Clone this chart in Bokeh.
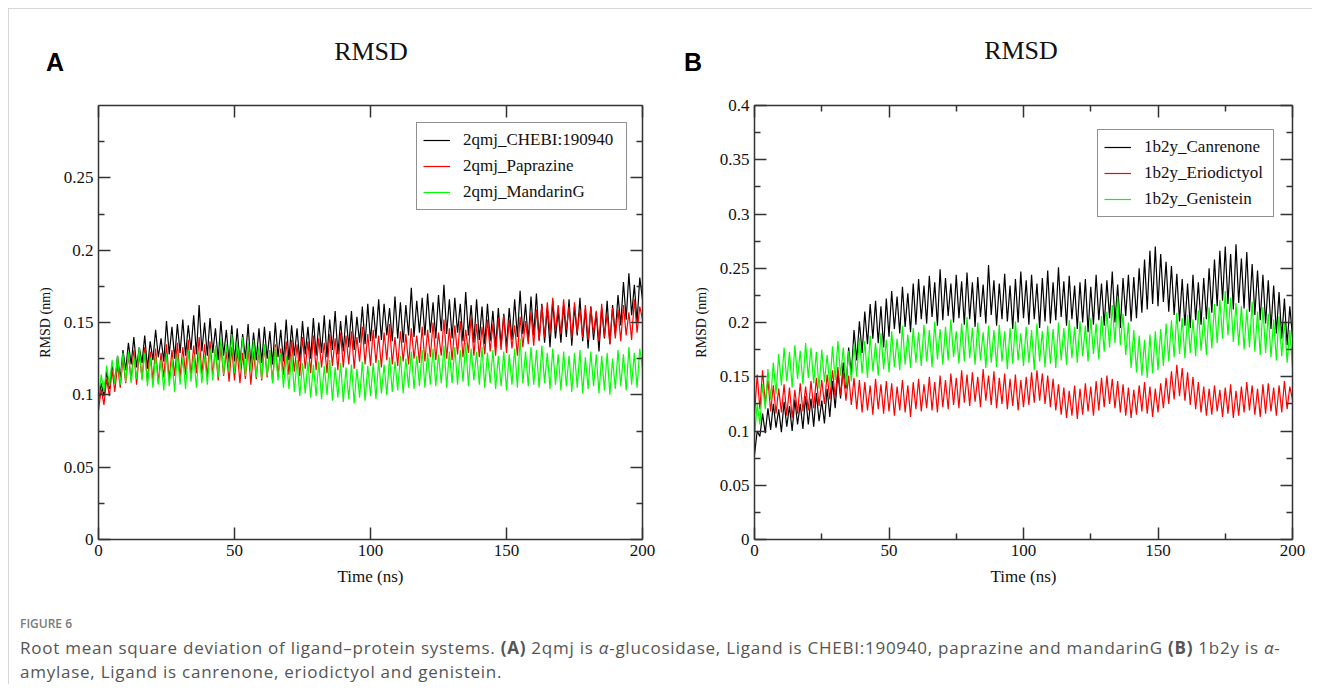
from bokeh.plotting import figure
from bokeh.models import (Range1d, LinearAxis, FixedTicker, CustomJSTickFormatter,
                          Legend, LegendItem, Div)
from bokeh.layouts import row, column
from bokeh.embed import file_html
from bokeh.resources import INLINE

# ---------------- data (RMSD in nm, sampled every 1 ns) ----------------
time_ns = list(range(201))

a_chebi = [
    0.096, 0.108, 0.099, 0.116, 0.104, 0.121, 0.108, 0.127, 0.111, 0.131,
    0.117, 0.136, 0.121, 0.140, 0.119, 0.133, 0.122, 0.141, 0.118, 0.137,
    0.124, 0.145, 0.126, 0.139, 0.123, 0.151, 0.128, 0.147, 0.125, 0.149,
    0.129, 0.152, 0.127, 0.148, 0.131, 0.155, 0.128, 0.162, 0.130, 0.150,
    0.127, 0.153, 0.129, 0.146, 0.124, 0.151, 0.127, 0.145, 0.122, 0.148,
    0.123, 0.146, 0.121, 0.142, 0.125, 0.149, 0.120, 0.143, 0.124, 0.146,
    0.122, 0.147, 0.125, 0.144, 0.121, 0.150, 0.126, 0.145, 0.123, 0.152,
    0.124, 0.148, 0.127, 0.146, 0.123, 0.151, 0.128, 0.147, 0.125, 0.153,
    0.127, 0.150, 0.129, 0.155, 0.126, 0.152, 0.131, 0.158, 0.128, 0.151,
    0.130, 0.155, 0.133, 0.158, 0.131, 0.154, 0.136, 0.161, 0.135, 0.163,
    0.137, 0.161, 0.139, 0.166, 0.138, 0.163, 0.141, 0.160, 0.137, 0.168,
    0.139, 0.164, 0.136, 0.162, 0.141, 0.174, 0.140, 0.165, 0.143, 0.167,
    0.141, 0.170, 0.143, 0.164, 0.139, 0.169, 0.144, 0.176, 0.142, 0.166,
    0.139, 0.167, 0.143, 0.163, 0.137, 0.171, 0.141, 0.162, 0.136, 0.166,
    0.138, 0.161, 0.135, 0.163, 0.137, 0.158, 0.133, 0.160, 0.134, 0.156,
    0.133, 0.160, 0.138, 0.166, 0.140, 0.172, 0.142, 0.163, 0.137, 0.168,
    0.141, 0.170, 0.138, 0.163, 0.136, 0.160, 0.133, 0.165, 0.139, 0.158,
    0.136, 0.162, 0.140, 0.166, 0.134, 0.161, 0.141, 0.167, 0.137, 0.159,
    0.132, 0.161, 0.138, 0.157, 0.130, 0.160, 0.139, 0.165, 0.135, 0.162,
    0.142, 0.169, 0.148, 0.178, 0.152, 0.184, 0.155, 0.176, 0.150, 0.181,
    0.166,
]

a_paprazine = [
    0.089, 0.104, 0.093, 0.111, 0.099, 0.117, 0.102, 0.121, 0.105, 0.125,
    0.108, 0.128, 0.110, 0.131, 0.107, 0.129, 0.111, 0.133, 0.109, 0.130,
    0.110, 0.132, 0.108, 0.129, 0.112, 0.135, 0.110, 0.131, 0.113, 0.136,
    0.112, 0.133, 0.114, 0.138, 0.113, 0.134, 0.115, 0.140, 0.114, 0.135,
    0.112, 0.137, 0.114, 0.132, 0.110, 0.134, 0.113, 0.130, 0.109, 0.133,
    0.110, 0.131, 0.108, 0.129, 0.111, 0.133, 0.107, 0.130, 0.111, 0.132,
    0.110, 0.134, 0.112, 0.131, 0.109, 0.135, 0.113, 0.132, 0.114, 0.137,
    0.114, 0.138, 0.116, 0.135, 0.113, 0.140, 0.118, 0.137, 0.115, 0.141,
    0.117, 0.139, 0.119, 0.136, 0.115, 0.142, 0.120, 0.139, 0.117, 0.143,
    0.119, 0.141, 0.121, 0.144, 0.118, 0.140, 0.123, 0.147, 0.121, 0.142,
    0.120, 0.145, 0.122, 0.141, 0.119, 0.143, 0.124, 0.149, 0.121, 0.140,
    0.120, 0.144, 0.123, 0.142, 0.121, 0.146, 0.125, 0.141, 0.122, 0.147,
    0.123, 0.145, 0.126, 0.150, 0.124, 0.143, 0.127, 0.152, 0.125, 0.146,
    0.124, 0.148, 0.128, 0.151, 0.126, 0.145, 0.129, 0.154, 0.127, 0.149,
    0.126, 0.147, 0.128, 0.152, 0.130, 0.149, 0.127, 0.153, 0.131, 0.155,
    0.129, 0.152, 0.132, 0.148, 0.127, 0.154, 0.133, 0.151, 0.135, 0.157,
    0.134, 0.159, 0.137, 0.162, 0.140, 0.164, 0.143, 0.167, 0.144, 0.162,
    0.142, 0.166, 0.145, 0.161, 0.139, 0.164, 0.143, 0.159, 0.140, 0.162,
    0.138, 0.161, 0.142, 0.158, 0.137, 0.163, 0.140, 0.156, 0.135, 0.160,
    0.139, 0.159, 0.137, 0.162, 0.141, 0.157, 0.138, 0.166, 0.143, 0.161,
    0.152,
]

a_mandarin = [
    0.098, 0.114, 0.102, 0.120, 0.106, 0.124, 0.108, 0.127, 0.107, 0.129,
    0.109, 0.130, 0.108, 0.127, 0.111, 0.133, 0.110, 0.129, 0.106, 0.126,
    0.105, 0.127, 0.107, 0.124, 0.103, 0.128, 0.106, 0.125, 0.102, 0.129,
    0.107, 0.126, 0.104, 0.131, 0.109, 0.128, 0.105, 0.130, 0.108, 0.127,
    0.107, 0.132, 0.110, 0.134, 0.112, 0.139, 0.114, 0.135, 0.116, 0.142,
    0.115, 0.137, 0.117, 0.140, 0.113, 0.136, 0.116, 0.138, 0.112, 0.134,
    0.111, 0.135, 0.113, 0.131, 0.108, 0.133, 0.110, 0.129, 0.105, 0.127,
    0.104, 0.128, 0.102, 0.124, 0.099, 0.122, 0.101, 0.123, 0.098, 0.121,
    0.099, 0.123, 0.097, 0.120, 0.100, 0.124, 0.096, 0.119, 0.098, 0.122,
    0.095, 0.119, 0.097, 0.121, 0.094, 0.118, 0.098, 0.123, 0.096, 0.120,
    0.099, 0.122, 0.097, 0.124, 0.101, 0.121, 0.100, 0.126, 0.102, 0.123,
    0.103, 0.127, 0.101, 0.125, 0.105, 0.130, 0.104, 0.127, 0.106, 0.131,
    0.105, 0.129, 0.107, 0.132, 0.106, 0.128, 0.108, 0.134, 0.105, 0.130,
    0.108, 0.133, 0.107, 0.131, 0.109, 0.136, 0.106, 0.132, 0.110, 0.130,
    0.107, 0.133, 0.105, 0.129, 0.108, 0.131, 0.104, 0.127, 0.106, 0.130,
    0.103, 0.128, 0.107, 0.132, 0.105, 0.139, 0.108, 0.130, 0.106, 0.133,
    0.107, 0.131, 0.105, 0.134, 0.108, 0.129, 0.104, 0.132, 0.107, 0.128,
    0.103, 0.130, 0.106, 0.127, 0.102, 0.129, 0.105, 0.131, 0.101, 0.126,
    0.104, 0.130, 0.106, 0.128, 0.101, 0.127, 0.103, 0.129, 0.100, 0.125,
    0.104, 0.131, 0.106, 0.128, 0.103, 0.133, 0.107, 0.129, 0.105, 0.132,
    0.118,
]

b_canrenone = [
    0.078, 0.100, 0.095, 0.116, 0.098, 0.121, 0.101, 0.125, 0.103, 0.120,
    0.099, 0.127, 0.104, 0.123, 0.100, 0.129, 0.106, 0.125, 0.102, 0.132,
    0.106, 0.130, 0.104, 0.135, 0.109, 0.128, 0.107, 0.139, 0.113, 0.146,
    0.121, 0.154, 0.130, 0.163, 0.139, 0.177, 0.152, 0.193, 0.165, 0.201,
    0.172, 0.210, 0.180, 0.217, 0.185, 0.220, 0.181, 0.215, 0.177, 0.222,
    0.187, 0.229, 0.194, 0.224, 0.190, 0.233, 0.196, 0.227, 0.191, 0.236,
    0.198, 0.240, 0.203, 0.234, 0.199, 0.243, 0.205, 0.237, 0.197, 0.249,
    0.202, 0.241, 0.206, 0.236, 0.200, 0.244, 0.204, 0.238, 0.198, 0.246,
    0.203, 0.237, 0.196, 0.242, 0.205, 0.235, 0.199, 0.253, 0.207, 0.239,
    0.197, 0.236, 0.203, 0.245, 0.201, 0.234, 0.194, 0.240, 0.200, 0.247,
    0.204, 0.239, 0.198, 0.244, 0.203, 0.236, 0.195, 0.241, 0.201, 0.248,
    0.199, 0.237, 0.202, 0.251, 0.205, 0.238, 0.197, 0.243, 0.203, 0.234,
    0.194, 0.237, 0.200, 0.240, 0.191, 0.233, 0.198, 0.244, 0.202, 0.236,
    0.197, 0.239, 0.204, 0.247, 0.200, 0.235, 0.195, 0.241, 0.206, 0.244,
    0.201, 0.242, 0.204, 0.250, 0.209, 0.258, 0.212, 0.266, 0.217, 0.270,
    0.215, 0.263, 0.219, 0.256, 0.210, 0.252, 0.207, 0.245, 0.201, 0.240,
    0.197, 0.236, 0.195, 0.244, 0.202, 0.237, 0.198, 0.241, 0.203, 0.250,
    0.209, 0.258, 0.215, 0.266, 0.220, 0.270, 0.217, 0.263, 0.212, 0.272,
    0.218, 0.259, 0.213, 0.265, 0.210, 0.254, 0.207, 0.248, 0.202, 0.244,
    0.199, 0.239, 0.194, 0.234, 0.190, 0.228, 0.185, 0.222, 0.179, 0.215,
    0.186,
]

b_eriodictyol = [
    0.115, 0.152, 0.120, 0.156, 0.125, 0.147, 0.118, 0.142, 0.116, 0.139,
    0.117, 0.143, 0.114, 0.140, 0.112, 0.138, 0.116, 0.144, 0.118, 0.141,
    0.119, 0.146, 0.121, 0.149, 0.123, 0.147, 0.125, 0.152, 0.129, 0.156,
    0.131, 0.159, 0.133, 0.154, 0.128, 0.151, 0.124, 0.149, 0.120, 0.147,
    0.117, 0.145, 0.119, 0.142, 0.115, 0.148, 0.120, 0.143, 0.116, 0.146,
    0.118, 0.144, 0.114, 0.141, 0.119, 0.147, 0.117, 0.142, 0.113, 0.145,
    0.120, 0.148, 0.118, 0.143, 0.121, 0.150, 0.119, 0.145, 0.117, 0.151,
    0.122, 0.147, 0.120, 0.153, 0.124, 0.149, 0.121, 0.156, 0.126, 0.152,
    0.123, 0.154, 0.127, 0.150, 0.122, 0.157, 0.128, 0.151, 0.124, 0.155,
    0.121, 0.149, 0.125, 0.153, 0.120, 0.148, 0.123, 0.152, 0.119, 0.147,
    0.122, 0.150, 0.124, 0.154, 0.126, 0.156, 0.128, 0.153, 0.125, 0.151,
    0.122, 0.148, 0.119, 0.143, 0.115, 0.140, 0.112, 0.137, 0.114, 0.142,
    0.111, 0.139, 0.115, 0.144, 0.118, 0.141, 0.114, 0.146, 0.119, 0.149,
    0.122, 0.151, 0.125, 0.148, 0.121, 0.146, 0.117, 0.143, 0.114, 0.140,
    0.112, 0.138, 0.115, 0.142, 0.118, 0.145, 0.116, 0.141, 0.113, 0.139,
    0.117, 0.144, 0.121, 0.149, 0.125, 0.155, 0.129, 0.161, 0.132, 0.158,
    0.128, 0.154, 0.124, 0.150, 0.120, 0.145, 0.117, 0.141, 0.114, 0.139,
    0.115, 0.142, 0.118, 0.138, 0.113, 0.140, 0.116, 0.143, 0.112, 0.137,
    0.114, 0.141, 0.117, 0.145, 0.119, 0.142, 0.115, 0.139, 0.113, 0.143,
    0.116, 0.144, 0.118, 0.140, 0.114, 0.142, 0.117, 0.146, 0.120, 0.141,
    0.129,
]

b_genistein = [
    0.094, 0.125, 0.106, 0.143, 0.120, 0.157, 0.129, 0.163, 0.134, 0.171,
    0.142, 0.177, 0.146, 0.173, 0.140, 0.179, 0.148, 0.174, 0.143, 0.181,
    0.149, 0.177, 0.144, 0.173, 0.139, 0.175, 0.145, 0.170, 0.141, 0.178,
    0.147, 0.183, 0.151, 0.177, 0.142, 0.174, 0.146, 0.180, 0.150, 0.186,
    0.153, 0.183, 0.149, 0.188, 0.155, 0.181, 0.151, 0.190, 0.157, 0.184,
    0.154, 0.192, 0.159, 0.185, 0.156, 0.197, 0.161, 0.189, 0.158, 0.195,
    0.163, 0.191, 0.160, 0.198, 0.164, 0.193, 0.159, 0.201, 0.166, 0.194,
    0.161, 0.196, 0.165, 0.203, 0.168, 0.192, 0.162, 0.199, 0.164, 0.205,
    0.167, 0.195, 0.161, 0.200, 0.165, 0.191, 0.158, 0.197, 0.163, 0.193,
    0.159, 0.198, 0.164, 0.192, 0.157, 0.195, 0.162, 0.201, 0.165, 0.190,
    0.160, 0.196, 0.163, 0.193, 0.156, 0.199, 0.164, 0.192, 0.159, 0.197,
    0.162, 0.194, 0.158, 0.200, 0.165, 0.195, 0.161, 0.202, 0.167, 0.196,
    0.163, 0.201, 0.169, 0.197, 0.164, 0.204, 0.171, 0.199, 0.166, 0.206,
    0.173, 0.210, 0.177, 0.216, 0.181, 0.224, 0.179, 0.208, 0.170, 0.200,
    0.158, 0.193, 0.154, 0.188, 0.151, 0.184, 0.149, 0.189, 0.153, 0.192,
    0.156, 0.194, 0.160, 0.199, 0.164, 0.202, 0.168, 0.209, 0.171, 0.204,
    0.167, 0.207, 0.172, 0.203, 0.169, 0.211, 0.174, 0.205, 0.170, 0.214,
    0.176, 0.217, 0.181, 0.221, 0.185, 0.229, 0.188, 0.223, 0.182, 0.218,
    0.179, 0.215, 0.175, 0.212, 0.177, 0.219, 0.173, 0.210, 0.170, 0.214,
    0.172, 0.208, 0.168, 0.203, 0.165, 0.206, 0.169, 0.201, 0.163, 0.193,
    0.158,
]

a_names = ["2qmj_CHEBI:190940", "2qmj_Paprazine", "2qmj_MandarinG"]
b_names = ["1b2y_Canrenone", "1b2y_Eriodictyol", "1b2y_Genistein"]
series_colors = ["#000000", "#ff0000", "#00ff00"]

x_ticks = [0, 50, 100, 150, 200]
a_x_minor = []
b_x_minor = [25, 75, 125, 175]
a_y_ticks = [0, 0.05, 0.1, 0.15, 0.2, 0.25]
a_y_minor = [0.025, 0.075, 0.125, 0.175, 0.225, 0.275]
b_y_ticks = [0, 0.05, 0.1, 0.15, 0.2, 0.25, 0.3, 0.35, 0.4]
b_y_minor = [0.025, 0.075, 0.125, 0.175, 0.225, 0.275, 0.325, 0.375]

# ---------------- styling ----------------
SERIF = "Liberation Serif"
AX = "#333333"
HEAD_H = 72
FIG_H = 519


def add_axis(p, side, ticks, minor, labels, axis_label=None, label_size="14px"):
    if labels:
        fmt = CustomJSTickFormatter(code="return String(Math.round(tick*1000)/1000);")
    else:
        fmt = CustomJSTickFormatter(code="return '';")
    ax = LinearAxis(ticker=FixedTicker(ticks=ticks, minor_ticks=minor), formatter=fmt)
    ax.axis_line_color = AX
    ax.axis_line_width = 1.5
    ax.major_tick_line_color = AX
    ax.minor_tick_line_color = AX
    ax.major_tick_line_width = 1.5
    ax.minor_tick_line_width = 1.5
    ax.major_tick_in = 12
    ax.major_tick_out = 0
    ax.minor_tick_in = 6
    ax.minor_tick_out = 0
    ax.major_label_text_font = SERIF
    ax.major_label_text_font_size = "17px" if labels else "0px"
    ax.major_label_text_color = "#111111"
    ax.major_label_standoff = 5
    if axis_label:
        ax.axis_label = axis_label
        ax.axis_label_text_font = SERIF
        ax.axis_label_text_font_style = "normal"
        ax.axis_label_text_font_size = label_size
        ax.axis_label_text_color = "#111111"
        ax.axis_label_standoff = 8
    p.add_layout(ax, side)
    return ax


def make_panel(width, min_left, min_right, ymax, yticks, yminor, xminor,
               series, names, legend_xy, legend_label_width):
    p = figure(width=width, height=FIG_H,
               x_range=Range1d(0, 200), y_range=Range1d(0, ymax),
               x_axis_location=None, y_axis_location=None,
               output_backend="svg", toolbar_location=None,
               min_border_left=min_left, min_border_right=min_right,
               min_border_top=24, min_border_bottom=61)
    p.xgrid.visible = False
    p.ygrid.visible = False
    p.outline_line_color = None
    p.background_fill_color = "white"
    p.border_fill_color = "white"

    add_axis(p, "below", x_ticks, xminor, True, "Time (ns)", "17px")
    add_axis(p, "left", yticks, yminor, True, "RMSD (nm)", "14px")
    add_axis(p, "above", x_ticks, xminor, False)
    add_axis(p, "right", yticks, yminor, False)

    renderers = []
    for ys, c in zip(series, series_colors):
        r = p.line(time_ns, ys, line_color=c, line_width=1.2)
        renderers.append(r)

    legend = Legend(items=[LegendItem(label=n, renderers=[r]) for n, r in zip(names, renderers)],
                    location=legend_xy)
    legend.border_line_color = "#222222"
    legend.border_line_width = 1.5
    legend.background_fill_color = "white"
    legend.background_fill_alpha = 1.0
    legend.label_text_font = SERIF
    legend.label_text_font_size = "17px"
    legend.label_text_color = "#111111"
    legend.glyph_width = 27
    legend.glyph_height = 20
    legend.label_height = 22
    legend.label_width = legend_label_width
    legend.label_standoff = 13
    legend.spacing = 4
    legend.padding = 6
    legend.margin = 0
    p.add_layout(legend)
    return p


pA = make_panel(656, 89, 23, 0.3, a_y_ticks, a_y_minor, a_x_minor,
                [a_chebi, a_paprazine, a_mandarin], a_names, (318, 329), 157)
pB = make_panel(647, 89, 20, 0.4, b_y_ticks, b_y_minor, b_x_minor,
                [b_canrenone, b_eriodictyol, b_genistein], b_names, (343, 322), 123)

TITLE_CSS = ("position:absolute;transform:translate(-50%,-50%);line-height:1;"
             "white-space:nowrap;")
header_html = (
    '<div style="position:relative;width:1303px;height:72px;">'
    '<span style="' + TITLE_CSS + 'left:46px;top:53px;font-family:\'Liberation Sans\';'
    'font-weight:bold;font-size:25px;color:#000;">A</span>'
    '<span style="' + TITLE_CSS + 'left:362px;top:43px;font-family:\'Liberation Serif\';'
    'font-size:26px;color:#111;">RMSD</span>'
    '<span style="' + TITLE_CSS + 'left:684px;top:53px;font-family:\'Liberation Sans\';'
    'font-weight:bold;font-size:25px;color:#000;">B</span>'
    '<span style="' + TITLE_CSS + 'left:1012px;top:42px;font-family:\'Liberation Serif\';'
    'font-size:26px;color:#111;">RMSD</span>'
    '</div>'
)
header = Div(text=header_html, width=1303, height=HEAD_H, margin=0)

caption_html = (
    '<div style="padding:12px 0 0 11px;font-family:\'Open Sans\',sans-serif;">'
    '<div style="color:#7a7a7a;font-size:12px;line-height:24px;font-weight:600;">FIGURE 6</div>'
    '<div style="color:#555555;font-size:17px;line-height:24px;letter-spacing:0.75px;">'
    'Root mean square deviation of ligand–protein systems. <b>(A)</b> 2qmj is <i>α</i>-glucosidase, '
    'Ligand is CHEBI:190940, paprazine and mandarinG <b>(B)</b> 1b2y is <i>α</i>-<br>'
    'amylase, Ligand is canrenone, eriodictyol and genistein.</div></div>'
)
caption = Div(text=caption_html, width=1303, height=84, margin=0)

layout = column(header, row(pA, pB), caption,
                styles={"margin-left": "8px", "margin-top": "8px",
                        "border-left": "1px solid #d6d6d6", "border-top": "1px solid #d6d6d6"})

open("out.html", "w").write(file_html(layout, INLINE))
